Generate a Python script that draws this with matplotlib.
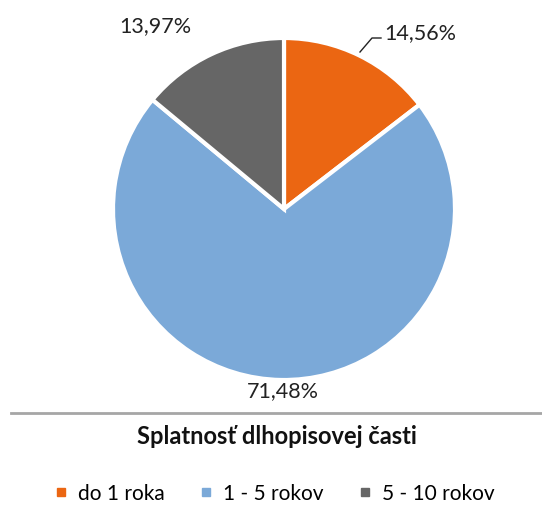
import matplotlib.pyplot as plt
from matplotlib.lines import Line2D

categories = ['do 1 roka', '1 - 5 rokov', '5 - 10 rokov']
values = [14.56, 71.48, 13.97]
colors = ['#EB6612', '#7BA9D8', '#666666']
title = 'Splatnosť dlhopisovej časti'

plt.rcParams['font.family'] = ['Lato', 'DejaVu Sans']

W, H = 542, 506
fig = plt.figure(figsize=(W / 100, H / 100), dpi=100)
ax = fig.add_axes([0, 0, 1, 1])

cx, cy, r = 284, H - 210, 171
ax.pie(values, colors=colors, startangle=90, counterclock=False,
       center=(cx, cy), radius=r, frame=True,
       wedgeprops=dict(edgecolor='white', linewidth=3))
ax.set_xlim(0, W)
ax.set_ylim(0, H)
ax.set_aspect('equal')
ax.axis('off')

lbl = [f'{v:.2f}%'.replace('.', ',') for v in values]
ax.text(384, H - 33, lbl[0], fontsize=15.5, ha='left', va='center', color='#222222')
ax.plot([360, 372, 381], [H - 53, H - 39, H - 39], color='#222222', lw=1)
ax.text(283, H - 391, lbl[1], fontsize=15.5, ha='center', va='center', color='#222222')
ax.text(155, H - 26, lbl[2], fontsize=15.5, ha='center', va='center', color='#222222')

# separator line and title
ax.plot([11, W], [H - 414, H - 414], color='#a6a6a6', lw=2)
ax.text(277, H - 437, title, fontsize=17, fontweight='bold', ha='center', va='center',
        color='#111111')

handles = [Line2D([], [], marker='s', ls='', color=c, markersize=6) for c in colors]
fig.legend(handles, categories, loc='center', bbox_to_anchor=(0.505, 1 - 494 / H),
           ncol=3, frameon=False, fontsize=15, handletextpad=0.4, columnspacing=1.6,
           handlelength=0.8, borderpad=0)

fig.savefig('out.png', dpi=100)
